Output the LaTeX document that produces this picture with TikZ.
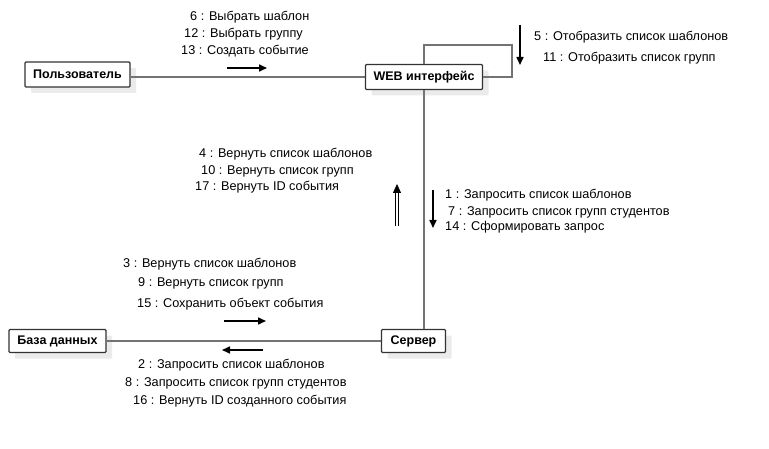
\documentclass[tikz,border=0pt]{standalone}
\usepackage{fontspec}
\setmainfont{Liberation Sans}
\usetikzlibrary{arrows.meta,shadows}

\tikzset{
    objbox/.style={draw=black!80, fill=white, rounded corners=1pt, line width=1.2pt,
        font=\fontsize{12.5}{14}\selectfont\bfseries, inner sep=0pt,
        drop shadow={shadow xshift=6pt, shadow yshift=-6pt, fill=black!8, opacity=1}},
    link/.style={draw=black!55, line width=1.5pt},
    msg/.style={-{Triangle[length=8pt,width=7pt]}, line width=1.6pt},
    lbl/.style={anchor=west, inner sep=0pt}
}

\begin{document}
\begin{tikzpicture}[x=1pt, y=-1pt, font=\fontsize{12.7}{14}\selectfont]
    \useasboundingbox (0,0) rectangle (769,449);

    % objects
    \node[objbox, minimum width=105pt, minimum height=25pt] (user) at (77.5,74.5) {Пользователь};
    \node[objbox, minimum width=117pt, minimum height=25pt] (web) at (424,77) {WEB интерфейс};
    \node[objbox, minimum width=97pt, minimum height=23pt] (db) at (57.5,341) {База данных};
    \node[objbox, minimum width=64pt, minimum height=23pt] (server) at (413.5,341) {Сервер};
    \coordinate (loop) at (512,45);

    % links
    \draw[link] (web.west) -- (web.west -| user.east);
    \draw[link] (web.north) |- (loop) |- (web.east);
    \draw[link] (web.south) -- (web.south |- server.north);
    \draw[link] (server.west) -- (db.east);

    % user -> web
    \coordinate (a1) at (227,68);
    \draw[msg] (a1) -- ++(40,0) coordinate (a2);
    \node[lbl] (m6) at (190,17) {6 : Выбрать шаблон};
    \node[lbl] (m12) at (184,34) {12 : Выбрать группу};
    \node[lbl] (m13) at (181,51) {13 : Создать событие};

    % web self
    \coordinate (b1) at (520,25);
    \draw[msg] (b1) -- ++(0,40) coordinate (b2);
    \node[lbl] (m5) at (534,37) {5 : Отобразить список шаблонов};
    \node[lbl] (m11) at (543,58) {11 : Отобразить список групп};

    % server -> web (return)
    \coordinate (c1) at (397,226);
    \coordinate (c2) at (397,184);
    \draw[line width=0.8pt] ([xshift=-1.3pt]c1) -- ([xshift=-1.3pt,yshift=-7pt]c2);
    \draw[line width=0.8pt] ([xshift=1.3pt]c1) -- ([xshift=1.3pt,yshift=-7pt]c2);
    \draw[-{Triangle[length=9pt,width=8pt]}, line width=0.8pt] ([yshift=-7pt]c2) -- (c2);
    \node[lbl] (m4) at (199,154) {4 : Вернуть список шаблонов};
    \node[lbl] (m10) at (201,171) {10 : Вернуть список групп};
    \node[lbl] (m17) at (195,187) {17 : Вернуть ID события};

    % web -> server
    \coordinate (d1) at (433,190);
    \draw[msg] (d1) -- ++(0,38) coordinate (d2);
    \node[lbl] (m1) at (445,195) {1 : Запросить список шаблонов};
    \node[lbl] (m7) at (448,212) {7 : Запросить список групп студентов};
    \node[lbl] (m14) at (445,227) {14 : Сформировать запрос};

    % db -> server
    \coordinate (e1) at (224,321);
    \draw[msg] (e1) -- ++(42,0) coordinate (e2);
    \node[lbl] (m3) at (123,264) {3 : Вернуть список шаблонов};
    \node[lbl] (m9) at (138,283) {9 : Вернуть список групп};
    \node[lbl] (m15) at (137,304) {15 : Сохранить объект события};

    % server -> db
    \coordinate (f1) at (263,350);
    \draw[msg] (f1) -- ++(-41,0) coordinate (f2);
    \node[lbl] (m2) at (138,365) {2 : Запросить список шаблонов};
    \node[lbl] (m8) at (125,383) {8 : Запросить список групп студентов};
    \node[lbl] (m16) at (133,401) {16 : Вернуть ID созданного события};
\end{tikzpicture}
\end{document}
